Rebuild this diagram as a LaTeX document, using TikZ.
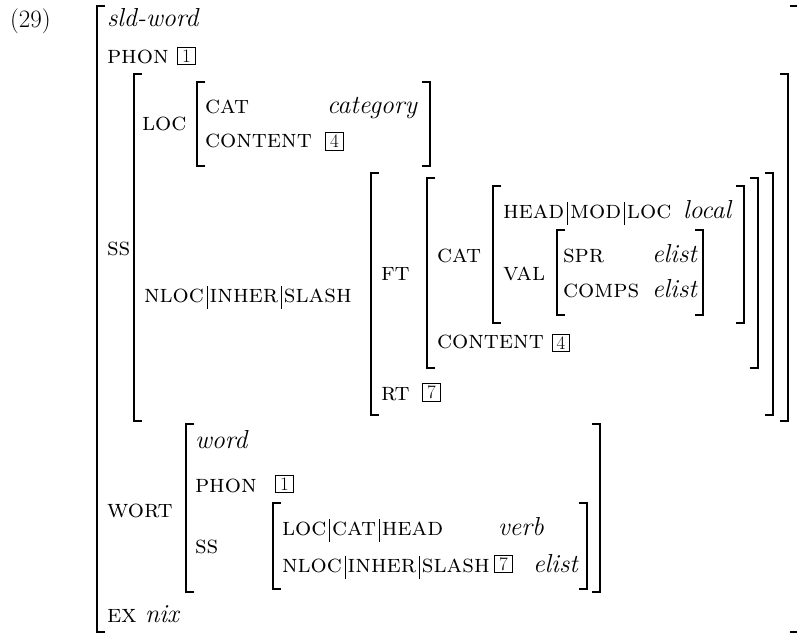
\documentclass[tikz,border=0pt]{standalone}
\usepackage{fontspec}
\newcommand\vb{\kern2.5pt\vrule height 16pt depth 7pt width 0.7pt\kern2.5pt}
\newcommand\sca[1]{{\fontsize{25.5}{28}\selectfont\scshape #1}}
\newcommand\avmL[3]{\draw[brk] ({#1+8},#2) -- (#1,#2) -- (#1,#3) -- ({#1+8},#3);}
\newcommand\avmR[3]{\draw[brk] ({#1-8},#2) -- (#1,#2) -- (#1,#3) -- ({#1-8},#3);}
\tikzset{
  lbl/.style={anchor=base west, inner sep=0pt, outer sep=0pt},
  brk/.style={line width=1.8pt},
  tagb/.style={draw, line width=0.6pt, minimum width=17.5pt, minimum height=17.5pt, inner sep=0pt, font=\fontsize{19}{20}\selectfont},
}
\begin{document}
\begin{tikzpicture}[x=1pt,y=-1pt,every node/.style={font=\fontsize{26}{28}\selectfont}]
\useasboundingbox (0,0) rectangle (797,633);
% example number
\node[lbl,font=\fontsize{25}{28}\selectfont] (num) at (10,27) {(29)};
% outer brackets
\avmL{97}{6}{632}
\avmR{798}{6}{632}
\node[lbl] (t1) at (107,26) {\textit{sld-word}};
\node[lbl] (phon1) at (107,63) {\sca{phon}};
\node[tagb] (tag1a) at (186.5,56) {1};
\node[lbl] (ss1) at (107,255) {\sca{ss}};
\node[lbl] (wort) at (107,517) {\sca{wort}};
\node[lbl] (ex) at (107,622) {\sca{ex}};
\node[lbl] (nix) at (145,622) {\textit{nix}};
% SS value
\avmL{134}{74}{421}
\avmR{788}{74}{421}
\node[lbl] (loc) at (142,130) {\sca{loc}};
\avmL{197}{82}{166}
\avmR{430}{82}{166}
\node[lbl] (cat1) at (205,113) {\sca{cat}};
\node[lbl] (catv1) at (327,113) {\textit{category}};
\node[lbl] (cont1) at (205,147) {\sca{content}};
\node[tagb] (tag4a) at (334.5,141.5) {4};
\node[lbl] (nloc1) at (144,302) {\sca{nloc}\vb\sca{inher}\vb\sca{slash}};
% NLOC value
\avmL{371}{173}{415}
\avmR{773}{173}{415}
\node[lbl] (ft) at (381,280) {\sca{ft}};
\node[lbl] (rt) at (381,400) {\sca{rt}};
\node[tagb] (tag7a) at (431.5,392.5) {7};
% FT value
\avmL{427}{178}{368}
\avmR{758}{178}{368}
\node[lbl] (cat2) at (437,262) {\sca{cat}};
\node[lbl] (cont2) at (437,348) {\sca{content}};
\node[tagb] (tag4b) at (561,343) {4};
% CAT value
\avmL{493}{186}{323}
\avmR{744}{186}{323}
\node[lbl] (head) at (503,218) {\sca{head}\vb\sca{mod}\vb\sca{loc}};
\node[lbl] (local) at (683,218) {\textit{local}};
\node[lbl] (val) at (503,280) {\sca{val}};
% VAL value
\avmL{557}{230}{315}
\avmR{703}{230}{315}
\node[lbl] (spr) at (563,262) {\sca{spr}};
\node[lbl] (sprv) at (652,262) {\textit{elist}};
\node[lbl] (comps) at (563,297) {\sca{comps}};
\node[lbl] (compsv) at (652,297) {\textit{elist}};
% WORT value
\avmL{186}{424}{592}
\avmR{600}{424}{592}
\node[lbl] (word) at (195,448) {\textit{word}};
\node[lbl] (phon2) at (195,492) {\sca{phon}};
\node[tagb] (tag1b) at (284.5,484) {1};
\node[lbl] (ss2) at (195,553) {\sca{ss}};
\avmL{273}{503}{589}
\avmR{587}{503}{589}
\node[lbl] (lch) at (282,535) {\sca{loc}\vb\sca{cat}\vb\sca{head}};
\node[lbl] (verb) at (498,535) {\textit{verb}};
\node[lbl] (nloc2) at (282,572) {\sca{nloc}\vb\sca{inher}\vb\sca{slash}};
\node[tagb] (tag7b) at (503.5,564) {7};
\node[lbl] (elist3) at (533,572) {\textit{elist}};
\end{tikzpicture}
\end{document}
